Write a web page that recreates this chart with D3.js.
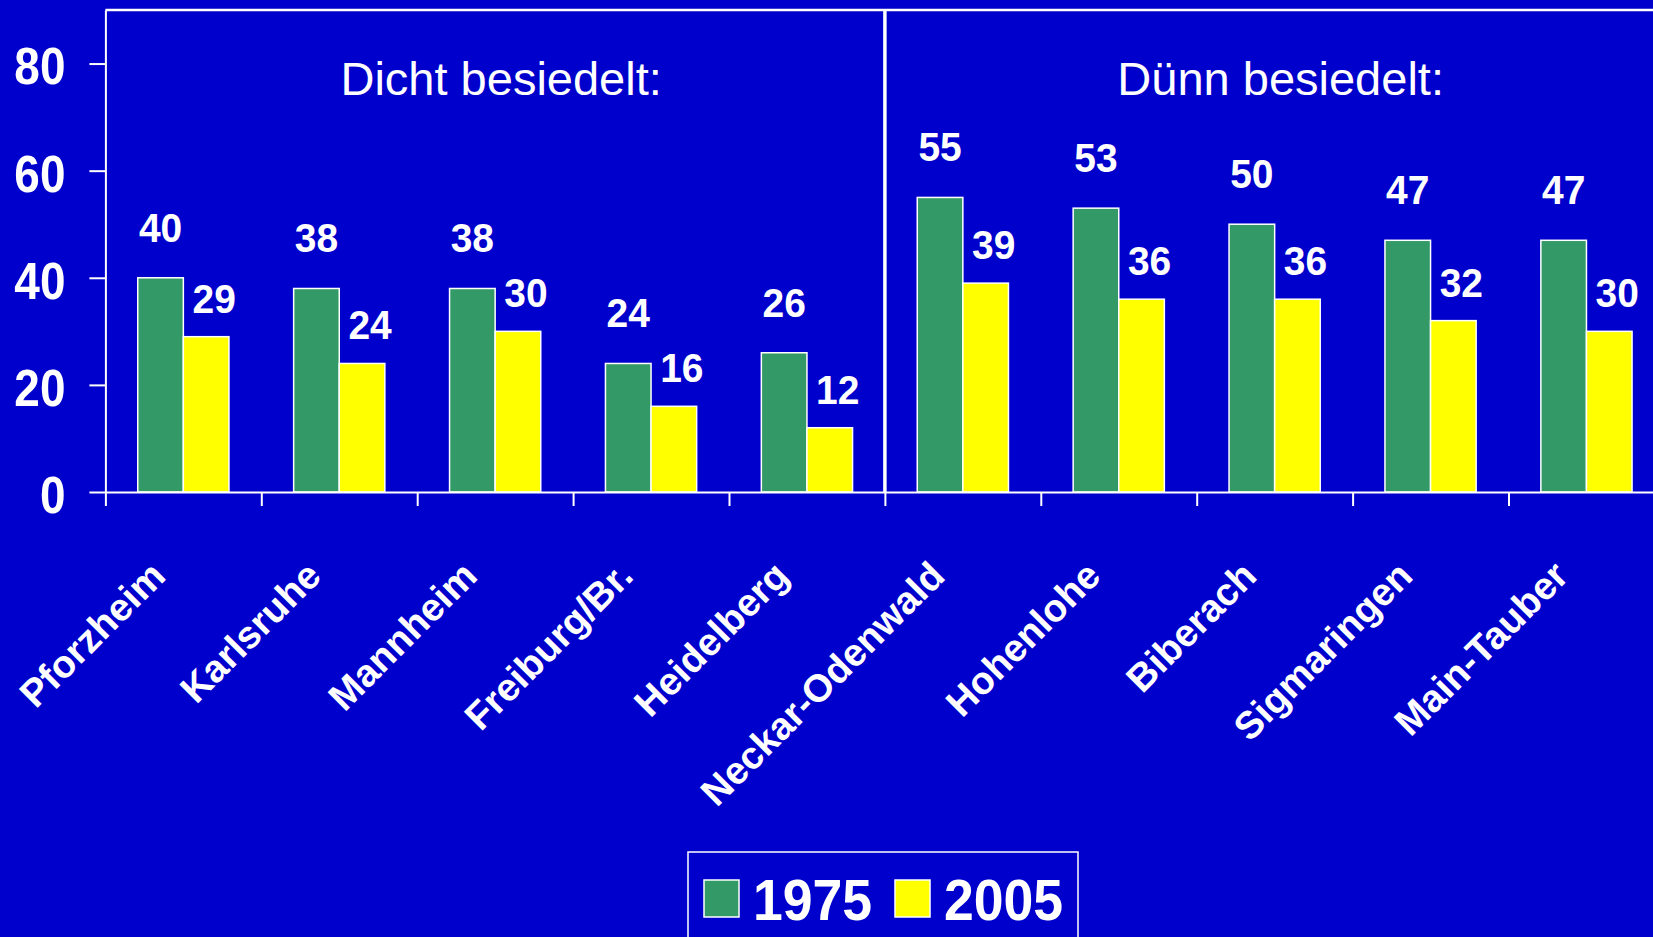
<!DOCTYPE html>
<html>
<head>
<meta charset="utf-8">
<script src="https://cdn.jsdelivr.net/npm/d3@7"></script>
<style>
  html, body { margin: 0; padding: 0; background: #0000cc; overflow: hidden; }
  svg { display: block; font-family: "Liberation Sans", Arial, sans-serif; }
</style>
</head>
<body>
<script>
// chart data
const categories = ['Pforzheim', 'Karlsruhe', 'Mannheim', 'Freiburg/Br.', 'Heidelberg',
  'Neckar-Odenwald', 'Hohenlohe', 'Biberach', 'Sigmaringen', 'Main-Tauber']
const values1975 = [40, 38, 38, 24, 26, 55, 53, 50, 47, 47]
const values2005 = [29, 24, 30, 16, 12, 39, 36, 36, 32, 30]
const seriesNames = ['1975', '2005']
const seriesColors = ['#339966', '#ffff00']
const yTicks = [0, 20, 40, 60, 80]
const panelTitles = ['Dicht besiedelt:', 'Dünn besiedelt:']

// set dimensions
const width = 1653
const height = 937
const plot = {left: 105.4, right: 1664.4, top: 10, bottom: 492}

const data = categories.map((c, i) => ({category: c, values: [values1975[i], values2005[i]]}))

const x = d3.scaleBand()
  .domain(categories)
  .range([plot.left, plot.right])
  .paddingInner(0.415)
  .paddingOuter(0.2075)

const xSub = d3.scaleBand()
  .domain(seriesNames)
  .range([0, x.bandwidth()])

const xEdge = d3.scaleLinear()
  .domain([0, categories.length])
  .range([plot.left, plot.right])

const y = d3.scaleLinear()
  .domain([0, 90])
  .range([plot.bottom, plot.top])

const svg = d3.select('body').append('svg')
  .attr('width', width)
  .attr('height', height)

svg.append('rect')
  .attr('width', width)
  .attr('height', height)
  .attr('fill', '#0000cc')

// frame top line + panel divider
svg.append('line')
  .attr('x1', plot.left).attr('x2', plot.right)
  .attr('y1', y(90)).attr('y2', y(90))
  .attr('stroke', '#fff').attr('stroke-width', 2.5)

svg.append('line')
  .attr('x1', xEdge(5)).attr('x2', xEdge(5))
  .attr('y1', y(90)).attr('y2', y(0))
  .attr('stroke', '#fff').attr('stroke-width', 3.5)

// panel titles
svg.selectAll('.panel-title')
  .data(panelTitles)
  .enter().append('text')
  .attr('class', 'panel-title')
  .attr('x', (d, i) => (xEdge(i * 5) + xEdge(i * 5 + 5)) / 2 + 6)
  .attr('y', 95)
  .attr('text-anchor', 'middle')
  .attr('fill', '#fff')
  .style('font-size', '47px')
  .text((d) => d)

// bars
const groups = svg.selectAll('.group')
  .data(data)
  .enter().append('g')
  .attr('class', 'group')
  .attr('transform', (d) => `translate(${x(d.category)}, 0)`)

groups.selectAll('rect')
  .data((d) => d.values.map((v, i) => ({series: seriesNames[i], value: v, i})))
  .enter().append('rect')
  .attr('x', (d) => xSub(d.series))
  .attr('y', (d) => y(d.value))
  .attr('width', xSub.bandwidth())
  .attr('height', (d) => y(0) - y(d.value))
  .attr('fill', (d) => seriesColors[d.i])
  .attr('stroke', '#fff')
  .attr('stroke-width', 1.5)

// value labels
groups.selectAll('.value')
  .data((d) => d.values.map((v, i) => ({series: seriesNames[i], value: v, i})))
  .enter().append('text')
  .attr('class', 'value')
  .attr('transform', (d) => `translate(${xSub(d.series) + xSub.bandwidth() / 2 + (d.i === 1 ? 8 : 0)}, ${y(d.value) - (d.i === 0 ? 36 : 24)}) scale(0.95, 1)`)
  .attr('text-anchor', 'middle')
  .attr('fill', '#fff')
  .style('font-size', '41px')
  .style('font-weight', 'bold')
  .text((d) => d.value)

// y axis
const yAxis = svg.append('g')
  .attr('transform', `translate(${plot.left}, 0)`)
  .call(d3.axisLeft(y).tickValues(yTicks).tickSize(16).tickSizeOuter(0).tickPadding(24))

yAxis.select('.domain').attr('stroke', '#fff').attr('stroke-width', 2)
yAxis.selectAll('.tick line').attr('stroke', '#fff').attr('stroke-width', 2)
yAxis.selectAll('.tick text')
  .attr('fill', '#fff')
  .attr('x', -40 / 0.9)
  .attr('dy', '0.4em')
  .attr('transform', 'scale(0.9, 1)')
  .style('font-size', '51px')
  .style('font-weight', 'bold')
  .style('font-family', '"Liberation Sans", Arial, sans-serif')

// x axis with ticks between categories
const xAxis = svg.append('g')
  .attr('transform', `translate(0, ${plot.bottom})`)
  .call(d3.axisBottom(xEdge).tickValues(d3.range(categories.length + 1)).tickSize(14).tickSizeOuter(0).tickFormat(''))

xAxis.select('.domain').attr('stroke', '#fff').attr('stroke-width', 2)
xAxis.selectAll('.tick line').attr('stroke', '#fff').attr('stroke-width', 2)

// category labels
svg.selectAll('.cat')
  .data(categories)
  .enter().append('text')
  .attr('class', 'cat')
  .attr('transform', (d) => `translate(${x(d) + x.bandwidth() / 2 - 16}, 578) rotate(-45)`)
  .attr('text-anchor', 'end')
  .attr('fill', '#fff')
  .style('font-size', '38.5px')
  .style('font-weight', 'bold')
  .text((d) => d)

// legend
const legend = svg.append('g')
  .attr('transform', 'translate(688, 852)')

legend.append('rect')
  .attr('width', 390)
  .attr('height', 120)
  .attr('fill', 'none')
  .attr('stroke', '#fff')
  .attr('stroke-width', 1.5)

const items = legend.selectAll('.item')
  .data(seriesNames)
  .enter().append('g')
  .attr('class', 'item')
  .attr('transform', (d, i) => `translate(${16 + i * 191}, 28)`)

items.append('rect')
  .attr('width', 35)
  .attr('height', 37)
  .attr('fill', (d, i) => seriesColors[i])
  .attr('stroke', '#fff')
  .attr('stroke-width', 1.5)

items.append('text')
  .attr('transform', 'translate(49, 40) scale(0.94, 1)')
  .attr('fill', '#fff')
  .style('font-size', '57px')
  .style('font-weight', 'bold')
  .text((d) => d)
</script>
</body>
</html>
